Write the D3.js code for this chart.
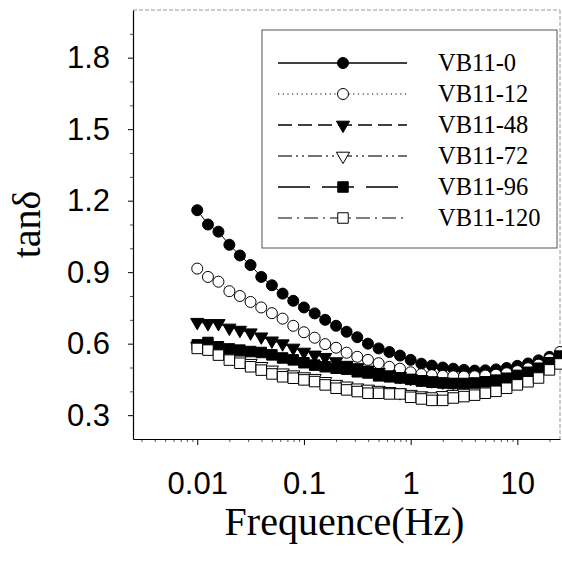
<!DOCTYPE html>
<html>
<head>
<meta charset="utf-8">
<script src="https://cdn.jsdelivr.net/npm/d3@7"></script>
<style>
  body { margin: 0; background: #fff; }
  svg { display: block; }
</style>
</head>
<body>
<svg></svg>
<script>
// frequency grid (Hz), 10 points per decade
const freqs = [0.01, 0.0126, 0.0158, 0.02, 0.0251, 0.0316, 0.0398, 0.0501, 0.0631, 0.0794,
               0.1, 0.126, 0.158, 0.2, 0.251, 0.316, 0.398, 0.501, 0.631, 0.794,
               1, 1.26, 1.58, 2, 2.51, 3.16, 3.98, 5.01, 6.31, 7.94,
               10, 12.6, 15.8, 20, 25.1];

const vb0   = [1.16, 1.10, 1.07, 1.015, 0.97, 0.93, 0.88, 0.845, 0.81, 0.78,
               0.752, 0.727, 0.70, 0.675, 0.65, 0.627, 0.60, 0.58, 0.565, 0.55,
               0.532, 0.516, 0.508, 0.50, 0.495, 0.49, 0.487, 0.488, 0.492, 0.498,
               0.507, 0.517, 0.53, 0.545, 0.56];
const vb12  = [0.915, 0.88, 0.86, 0.82, 0.80, 0.775, 0.752, 0.728, 0.705, 0.675,
               0.648, 0.625, 0.598, 0.583, 0.562, 0.545, 0.532, 0.518, 0.503, 0.495,
               0.48, 0.472, 0.468, 0.465, 0.463, 0.462, 0.463, 0.466, 0.47, 0.476,
               0.485, 0.497, 0.512, 0.535, 0.565];
const vb48  = [0.69, 0.685, 0.685, 0.666, 0.657, 0.646, 0.629, 0.612, 0.60, 0.582,
               0.565, 0.553, 0.543, 0.525, 0.51, 0.50, 0.49, 0.48, 0.47, 0.463,
               0.455, 0.45, 0.445, 0.44, 0.438, 0.436, 0.436, 0.437, 0.44, 0.445,
               0.455, 0.468, 0.485, 0.505, 0.53];
const vb72  = [0.59, 0.585, 0.565, 0.545, 0.532, 0.518, 0.505, 0.49, 0.478, 0.47,
               0.462, 0.455, 0.442, 0.43, 0.423, 0.415, 0.41, 0.405, 0.40, 0.395,
               0.388, 0.382, 0.378, 0.383, 0.388, 0.393, 0.40, 0.41, 0.42, 0.435,
               0.45, 0.465, 0.48, 0.50, 0.525];
const vb96  = [0.595, 0.605, 0.587, 0.578, 0.573, 0.567, 0.563, 0.553, 0.54, 0.532,
               0.52, 0.51, 0.503, 0.497, 0.493, 0.482, 0.477, 0.465, 0.461, 0.456,
               0.45, 0.443, 0.438, 0.435, 0.433, 0.433, 0.435, 0.44, 0.447, 0.455,
               0.467, 0.48, 0.497, 0.52, 0.548];
const vb120 = [0.58, 0.573, 0.552, 0.531, 0.518, 0.503, 0.489, 0.473, 0.461, 0.455,
               0.448, 0.441, 0.427, 0.413, 0.406, 0.399, 0.392, 0.392, 0.389, 0.389,
               0.375, 0.368, 0.362, 0.362, 0.372, 0.378, 0.384, 0.392, 0.40, 0.413,
               0.427, 0.44, 0.456, 0.49, 0.515];

const seriesNames = ['VB11-0', 'VB11-12', 'VB11-48', 'VB11-72', 'VB11-96', 'VB11-120'];
const seriesValues = [vb0, vb12, vb48, vb72, vb96, vb120];
const xTicks = [0.01, 0.1, 1, 10];
const xTickLabels = ['0.01', '0.1', '1', '10'];
const yTicks = [0.3, 0.6, 0.9, 1.2, 1.5, 1.8];

const styles = [
    {marker: 'circle',   fill: '#000', dash: null,                 stroke: '#000', sw: 1.3},
    {marker: 'circle',   fill: '#fff', dash: '1.2,3.5',            stroke: '#000', sw: 1.1},
    {marker: 'triangle', fill: '#000', dash: '14,6',               stroke: '#000', sw: 1.3},
    {marker: 'triangle', fill: '#fff', dash: '14,4,2,4,2,4',       stroke: '#444', sw: 1.6},
    {marker: 'square',   fill: '#000', dash: '32,12',              stroke: '#000', sw: 1.3},
    {marker: 'square',   fill: '#fff', dash: '14,5,2,5',           stroke: '#000', sw: 1.1}
];

const width = 562;
const height = 562;
const pLeft = 133, pTop = 10, pRight = 560, pBottom = 439;

const svg = d3.select('svg')
    .attr('width', width)
    .attr('height', height);

const x = d3.scaleLog().domain([0.0025, 25.1]).range([pLeft, pRight]);
const y = d3.scaleLinear().domain([0.2, 2.0]).range([pBottom, pTop]);

// frame: left/bottom solid, top/right faint
svg.append('line').attr('x1', pLeft).attr('x2', pRight).attr('y1', pTop).attr('y2', pTop)
    .attr('stroke', '#999').attr('stroke-dasharray', '4,2');
svg.append('line').attr('x1', pRight).attr('x2', pRight).attr('y1', pTop).attr('y2', pBottom)
    .attr('stroke', '#999').attr('stroke-dasharray', '4,2');

// minor ticks
const xMinor = [];
[0.001, 0.01, 0.1, 1, 10].forEach(d => {
    for (let m = 2; m <= 9; m++) {
        const v = d * m;
        if (v > 0.0025 && v < 25) xMinor.push(v);
    }
});
svg.append('g')
    .attr('transform', `translate(0,${pBottom})`)
    .call(d3.axisBottom(x).tickValues(xMinor).tickSize(3).tickFormat(''))
    .call(g => g.select('.domain').remove())
    .call(g => g.selectAll('line').attr('stroke', '#555'));

const yMinor = d3.range(3, 20).map(i => i / 10).filter(v => !yTicks.some(t => Math.abs(t - v) < 1e-6));
svg.append('g')
    .attr('transform', `translate(${pLeft},0)`)
    .call(d3.axisLeft(y).tickValues(yMinor).tickSize(3).tickFormat(''))
    .call(g => g.select('.domain').remove())
    .call(g => g.selectAll('line').attr('stroke', '#555'));

// major axes
const xAxis = svg.append('g')
    .attr('transform', `translate(0,${pBottom})`)
    .call(d3.axisBottom(x).tickValues(xTicks).tickSize(6).tickPadding(27)
        .tickFormat((d, i) => xTickLabels[i]).tickSizeOuter(0));
xAxis.select('.domain').attr('stroke', '#000').attr('stroke-width', 1.2);
xAxis.selectAll('text')
    .attr('font-family', '"Liberation Sans", Arial, sans-serif')
    .attr('font-size', 31).attr('fill', '#000');

const yAxis = svg.append('g')
    .attr('transform', `translate(${pLeft},0)`)
    .call(d3.axisLeft(y).tickValues(yTicks).tickSize(5).tickPadding(18)
        .tickFormat(d3.format('.1f')).tickSizeOuter(0));
yAxis.select('.domain').attr('stroke', '#000').attr('stroke-width', 1.2);
yAxis.selectAll('text')
    .attr('font-family', '"Liberation Sans", Arial, sans-serif')
    .attr('font-size', 31).attr('fill', '#000');

// axis titles
svg.append('text')
    .attr('x', (pLeft + pRight) / 2 - 2)
    .attr('y', 535)
    .attr('text-anchor', 'middle')
    .attr('font-family', '"Liberation Serif", "Times New Roman", serif')
    .attr('font-size', 40)
    .text('Frequence(Hz)');

svg.append('text')
    .attr('transform', `translate(40,${(pTop + pBottom) / 2}) rotate(-90)`)
    .attr('text-anchor', 'middle')
    .attr('font-family', '"Liberation Serif", "Times New Roman", serif')
    .attr('font-size', 40)
    .text('tanδ');

const markerPath = (type, size) => {
    const sym = type === 'circle' ? d3.symbolCircle : type === 'square' ? d3.symbolSquare : d3.symbolTriangle;
    return d3.symbol().type(sym).size(size)();
};
const markerSize = {circle: 95, square: 110, triangle: 75};

const line = d3.line().x(d => x(d.f)).y(d => y(d.v));

const plot = svg.append('g');
seriesValues.forEach((vals, i) => {
    const st = styles[i];
    const pts = freqs.map((f, j) => ({f: f, v: vals[j]}));
    plot.append('path')
        .datum(pts)
        .attr('d', line)
        .attr('fill', 'none')
        .attr('stroke', st.stroke)
        .attr('stroke-width', 1)
        .attr('stroke-dasharray', st.dash);
    plot.selectAll('.m' + i)
        .data(pts)
        .join('path')
        .attr('class', 'm' + i)
        .attr('d', markerPath(st.marker, markerSize[st.marker]))
        .attr('transform', d => `translate(${x(d.f)},${y(d.v)})` + (st.marker === 'triangle' ? ' rotate(180)' : ''))
        .attr('fill', st.fill)
        .attr('stroke', '#000')
        .attr('stroke-width', 1);
});

// legend
const lg = svg.append('g');
lg.append('rect')
    .attr('x', 262).attr('y', 30)
    .attr('width', 295).attr('height', 218)
    .attr('fill', '#fff')
    .attr('stroke', '#555')
    .attr('stroke-width', 1);

seriesNames.forEach((name, i) => {
    const st = styles[i];
    const ry = 63 + i * 31;
    lg.append('line')
        .attr('x1', 278).attr('x2', 407)
        .attr('y1', ry).attr('y2', ry)
        .attr('stroke', st.stroke)
        .attr('stroke-width', st.sw)
        .attr('stroke-dasharray', st.dash);
    lg.append('path')
        .attr('d', markerPath(st.marker, markerSize[st.marker]))
        .attr('transform', `translate(343,${ry})` + (st.marker === 'triangle' ? ' rotate(180)' : ''))
        .attr('fill', st.fill)
        .attr('stroke', '#000');
    lg.append('text')
        .attr('x', 438)
        .attr('y', ry + 8)
        .attr('font-family', '"Liberation Serif", "Times New Roman", serif')
        .attr('font-size', 24.5)
        .text(name);
});
</script>
</body>
</html>
